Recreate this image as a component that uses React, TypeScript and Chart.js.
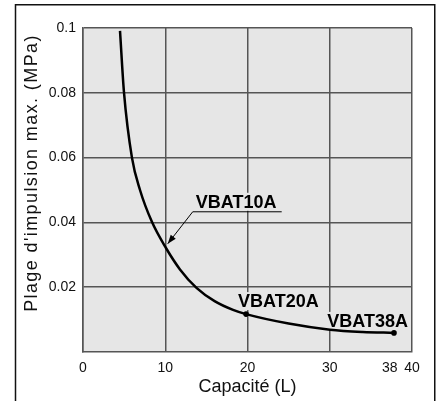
import React, { useEffect, useRef } from "react";
import { Chart, registerables } from "chart.js";

Chart.register(...registerables);

// ---- data ----
const capacity = [4.5, 4.98, 5.95, 6.93, 8.39, 10.09, 11.79, 13.8, 16, 18.24, 19.82, 25, 30.03, 34, 37.81];
const pressure = [0.0991, 0.0802, 0.06, 0.05, 0.0401, 0.0321, 0.0255, 0.0198, 0.0157, 0.013, 0.0117, 0.0088, 0.0069, 0.0062, 0.0059];
const markedCapacities = [19.82, 37.81];
const xTicks = [0, 10, 20, 30, 38, 40];
const yTicks = [0.02, 0.04, 0.06, 0.08, 0.1];
const modelNames = ["VBAT10A", "VBAT20A", "VBAT38A"];
const modelCapacity = [10.3, 19.82, 37.81];
const modelPressure = [0.0334, 0.0117, 0.0059];
const xTitle = "Capacité (L)";
const yTitle = "Plage d'impulsion max. (MPa)";

const FONT = "'Liberation Sans', Arial, Helvetica, sans-serif";
const PLOT_BG = "#e6e6e6";
const GRID = "#555555";

const decorPlugin = {
  id: "decor",
  beforeDraw(chart: any) {
    const { ctx, chartArea: a } = chart;
    ctx.save();
    ctx.fillStyle = PLOT_BG;
    ctx.fillRect(a.left, a.top, a.right - a.left, a.bottom - a.top);
    ctx.restore();
  },
  beforeDatasetsDraw(chart: any) {
    const { ctx } = chart;
    const xs = chart.scales.x;
    const ys = chart.scales.y;
    ctx.save();
    ctx.font = `bold 18px ${FONT}`;
    ctx.textBaseline = "alphabetic";
    const drawLabel = (text: string, x: number, y: number, align: "left" | "right") => {
      const w = ctx.measureText(text).width;
      const left = align === "left" ? x : x - w;
      ctx.fillStyle = PLOT_BG;
      ctx.fillRect(left - 1, y - 15, w + 2, 18);
      ctx.fillStyle = "#000";
      ctx.textAlign = align;
      ctx.fillText(text, x, y);
    };
    // VBAT10A with leader + arrow
    const ax = xs.getPixelForValue(modelCapacity[0]);
    const ay = ys.getPixelForValue(modelPressure[0]);
    drawLabel(modelNames[0], ax + 28, ay - 36, "left");
    ctx.strokeStyle = "#000";
    ctx.lineWidth = 1;
    ctx.beginPath();
    ctx.moveTo(ax + 114, ay - 32);
    ctx.lineTo(ax + 25, ay - 32);
    ctx.lineTo(ax, ay);
    ctx.stroke();
    const ang = Math.atan2(32, -25);
    const hl = 9, hw = 3.2;
    ctx.fillStyle = "#000";
    ctx.beginPath();
    ctx.moveTo(ax, ay);
    ctx.lineTo(ax - hl * Math.cos(ang) + hw * Math.sin(ang), ay - hl * Math.sin(ang) - hw * Math.cos(ang));
    ctx.lineTo(ax - hl * Math.cos(ang) - hw * Math.sin(ang), ay - hl * Math.sin(ang) + hw * Math.cos(ang));
    ctx.closePath();
    ctx.fill();
    // VBAT20A
    const bx = xs.getPixelForValue(modelCapacity[1]);
    const by = ys.getPixelForValue(modelPressure[1]);
    drawLabel(modelNames[1], bx - 8, by - 7, "left");
    // VBAT38A
    const cx = xs.getPixelForValue(modelCapacity[2]);
    const cy = ys.getPixelForValue(modelPressure[2]);
    drawLabel(modelNames[2], cx + 14, cy - 6, "right");
    ctx.restore();
  },
  afterDraw(chart: any) {
    const { ctx, chartArea: a } = chart;
    ctx.save();
    // outer frame
    ctx.strokeStyle = "#111";
    ctx.lineWidth = 1.5;
    ctx.beginPath();
    ctx.moveTo(15.5, 420);
    ctx.lineTo(15.5, 4.75);
    ctx.lineTo(434.75, 4.75);
    ctx.lineTo(434.75, 420);
    ctx.stroke();
    // axis titles
    ctx.fillStyle = "#111";
    ctx.font = `18px ${FONT}`;
    ctx.textAlign = "center";
    ctx.textBaseline = "alphabetic";
    ctx.fillText(xTitle, (a.left + a.right) / 2, 392);
    ctx.translate(37, 173);
    ctx.rotate(-Math.PI / 2);
    (ctx as any).letterSpacing = "1.4px";
    ctx.fillText(yTitle, 0, 0);
    ctx.restore();
  },
};

export default function App() {
  const ref = useRef<HTMLCanvasElement | null>(null);
  useEffect(() => {
    if (!ref.current) return;
    const chart = new Chart(ref.current, {
      type: "line",
      data: {
        datasets: [
          {
            data: capacity.map((c, i) => ({ x: c, y: pressure[i] })),
            borderColor: "#000",
            borderWidth: 2.5,
            cubicInterpolationMode: "monotone",
            pointRadius: capacity.map((c) => (markedCapacities.includes(c) ? 2.8 : 0)),
            pointBackgroundColor: "#000",
            pointBorderWidth: 0,
            fill: false,
          },
        ],
      },
      options: {
        animation: false,
        responsive: false,
        devicePixelRatio: 1,
        layout: { padding: { left: 0, right: 29, top: 28, bottom: 0 } },
        plugins: { legend: { display: false }, tooltip: { enabled: false } },
        scales: {
          x: {
            type: "linear",
            min: 0,
            max: 40,
            afterBuildTicks: (s: any) => {
              s.ticks = xTicks.map((v) => ({ value: v }));
            },
            afterFit: (s: any) => {
              s.height = 49;
            },
            ticks: {
              autoSkip: false,
              maxRotation: 0,
              padding: 8,
              color: "#111",
              font: { family: FONT, size: 14 },
              callback: (v: any) => (v === 38 ? "38   " : String(v)),
            },
            grid: {
              drawTicks: false,
              lineWidth: 1.5,
              color: (c: any) => (c.tick && c.tick.value === 38 ? "rgba(0,0,0,0)" : GRID),
            },
            border: { display: true, color: GRID, width: 1.5 },
          },
          y: {
            type: "linear",
            min: 0,
            max: 0.1,
            afterBuildTicks: (s: any) => {
              s.ticks = yTicks.map((v) => ({ value: v }));
            },
            afterFit: (s: any) => {
              s.width = 83;
            },
            ticks: {
              padding: 7,
              color: "#111",
              font: { family: FONT, size: 14 },
              callback: (v: any) => String(v),
            },
            grid: { drawTicks: false, lineWidth: 1.5, color: GRID },
            border: { display: true, color: GRID, width: 1.5 },
          },
        },
      },
      plugins: [decorPlugin],
    } as any);
    return () => chart.destroy();
  }, []);
  return (
    <canvas
      ref={ref}
      width={441}
      height={401}
      style={{ position: "fixed", left: 0, top: 0, width: 441, height: 401 }}
    />
  );
}
